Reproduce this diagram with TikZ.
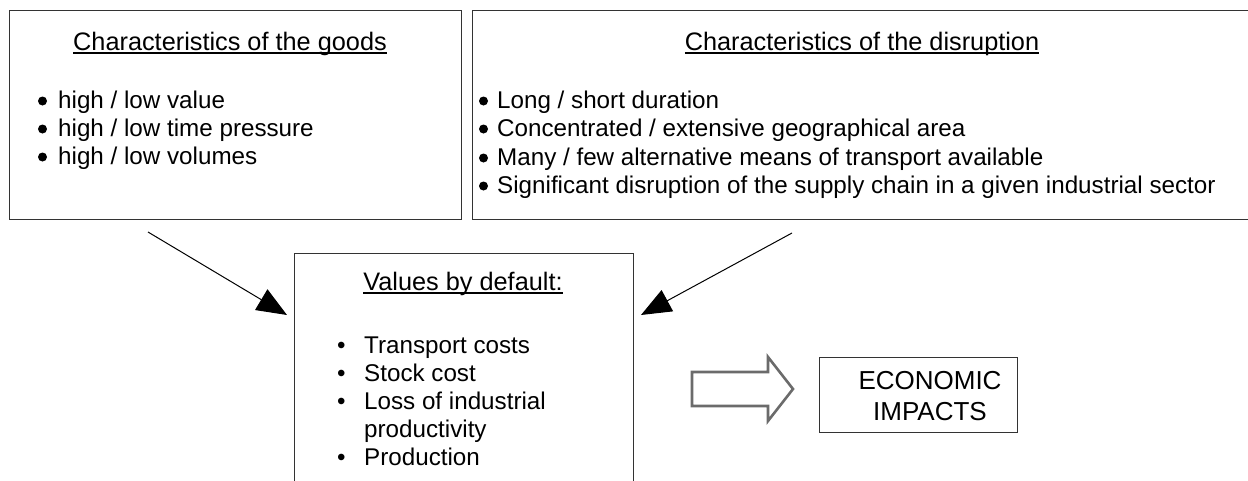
\documentclass[tikz,border=0pt]{standalone}
\usepackage{fontspec}
\setmainfont{Liberation Sans}
\usetikzlibrary{arrows.meta}
% underline drawn at a fixed depth below the baseline
\newsavebox\ulinebox
\newcommand\ulined[1]{\sbox\ulinebox{#1}\rlap{\rule[-4pt]{\wd\ulinebox}{1.8pt}}\usebox\ulinebox}
\begin{document}
\begin{tikzpicture}[x=1pt,y=-1pt,
  frame/.style={draw=black!80, line width=1.3pt, inner sep=0, anchor=north west},
  body/.style={inner sep=0, font=\fontsize{24.2pt}{28.5pt}\selectfont},
  item/.style={body, anchor=base west},
  dot/.style={circle, fill=black, inner sep=0, minimum size=9pt},
  heading/.style={inner sep=0, anchor=base, font=\fontsize{25.3pt}{28.5pt}\selectfont},
  bigtext/.style={inner sep=0, anchor=base, font=\fontsize{26pt}{30pt}\selectfont},
  link/.style={line width=1pt, -{Triangle[length=30pt,width=24pt]}},
  bigarrow/.style={draw=black!58, fill=white, line width=2.6pt, line join=miter}]
\useasboundingbox (0,0) rectangle (1248,480);
\clip (0,0) rectangle (1248,480);

% frames
\node[frame, minimum width=452pt, minimum height=209pt] (goods) at (9,10) {};
\node[frame, minimum width=800pt, minimum height=209pt] (disr) at (472,10) {};
\node[frame, minimum width=339pt, minimum height=260pt] (vals) at (294,253) {};
\node[frame, minimum width=198pt, minimum height=75pt] (econ) at (819,357) {};

% characteristics of the goods
\node[heading] (goodsT) at (230,50) {\ulined{Characteristics of the goods}};
\node[dot] (g1d) at (42.5,101) {};
\node[dot] (g2d) at (42.5,129) {};
\node[dot] (g3d) at (42.5,157) {};
\node[item] (g1) at (58,108) {high / low value};
\node[item] (g2) at (58,136) {high / low time pressure};
\node[item] (g3) at (58,164) {high / low volumes};

% characteristics of the disruption
\node[heading] (disrT) at (862,50) {\ulined{Characteristics of the disruption}};
\node[dot] (d1d) at (483.5,101) {};
\node[dot] (d2d) at (483.5,129) {};
\node[dot] (d3d) at (483.5,158) {};
\node[dot] (d4d) at (483.5,186) {};
\node[item] (d1) at (497,108) {Long / short duration};
\node[item] (d2) at (497,136) {Concentrated / extensive geographical area};
\node[item] (d3) at (497,165) {Many / few alternative means of transport available};
\node[item] (d4) at (497,193) {Significant disruption of the supply chain in a given industrial sector};

% default values
\node[heading] (valsT) at (463,290) {\ulined{Values by default:}};
\node[item] (v1) at (337,353) {\makebox[27pt][l]{•}Transport costs};
\node[item] (v2) at (337,381) {\makebox[27pt][l]{•}Stock cost};
\node[item] (v3) at (337,409) {\makebox[27pt][l]{•}Loss of industrial};
\node[item] (v3b) at (364,437) {productivity};
\node[item] (v4) at (337,465) {\makebox[27pt][l]{•}Production};

% economic impacts
\node[bigtext] (e1) at (930,389) {ECONOMIC};
\node[bigtext] (e2) at (930,420) {IMPACTS};

% converging arrows
\coordinate (s1) at (148,232);
\coordinate (t1) at (287,315);
\coordinate (s2) at (792,233);
\coordinate (t2) at (641,315);
\draw[link] (s1) -- (t1);
\draw[link] (s2) -- (t2);

% block arrow towards the impacts
\draw[bigarrow] (692,372) -- (768,372) -- (768,357) -- (793,389)
  -- (768,421) -- (768,406) -- (692,406) -- cycle;
\end{tikzpicture}
\end{document}
